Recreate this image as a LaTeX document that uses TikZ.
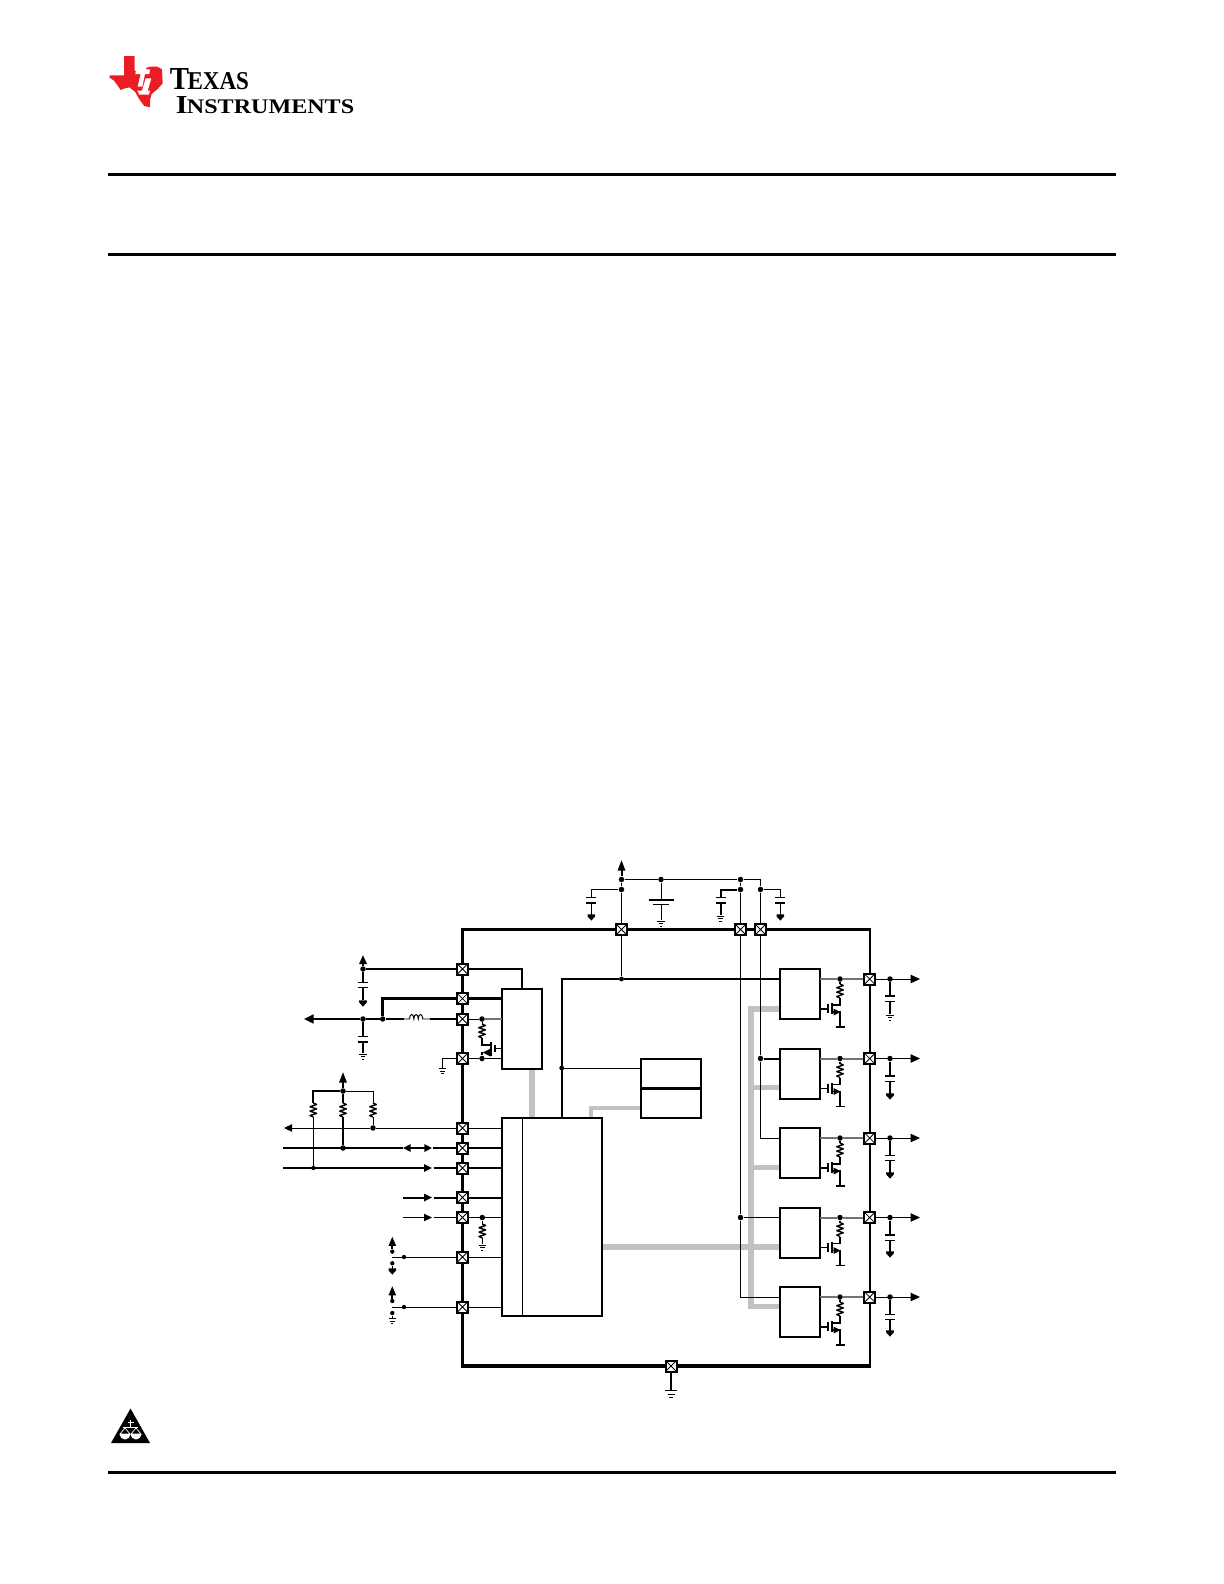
\documentclass[tikz,border=0pt]{standalone}
\usepackage{fontspec}
\setmainfont{Liberation Serif}
\usetikzlibrary{arrows.meta,calc}
\definecolor{busgray}{gray}{0.76}
\definecolor{tired}{RGB}{236,28,36}
\tikzset{
  wthin/.style={line width=0.55pt},
  wmed/.style={line width=1.2pt},
  wthick/.style={line width=1.9pt},
  bus/.style={draw=busgray,line width=3.3pt},
  rule/.style={line width=1.8pt},
  pinbox/.style={rectangle,draw,line width=1.2pt,fill=white,minimum size=6.6pt,inner sep=0pt,
    path picture={\draw[line width=0.45pt](path picture bounding box.south west)--(path picture bounding box.north east)
      (path picture bounding box.north west)--(path picture bounding box.south east);}},
  jdot/.style={circle,fill,inner sep=0pt,minimum size=3.3pt},
  sdot/.style={circle,fill,inner sep=0pt,minimum size=2.6pt},
  block/.style={rectangle,draw,line width=1.2pt,inner sep=0pt,outer sep=0pt,minimum width=24pt,minimum height=30pt},
  arr/.style={-{Triangle[length=5.6pt,width=5pt]}},
  arrs/.style={-{Triangle[length=4.8pt,width=4.4pt]}},
  tipup/.style={-{Triangle[length=5.4pt,width=4.4pt]}},
}
% resistor, top at (x,y), 14 px tall
\newcommand{\myres}[2]{\draw[line width=0.85pt,line join=round] (#1,#2) -- ++(3.3,1.5) -- ++(-6.6,2.2) -- ++(6.6,2.2) -- ++(-6.6,2.2) -- ++(6.6,2.2) -- ++(-6.6,2.2) -- ++(3.3,1.5);}
% ground with three lines, first at (x,y)
\newcommand{\mygnd}[2]{\draw[wthin] (#1-3.6,#2) -- (#1+3.6,#2) (#1-2.4,#2+2.6) -- (#1+2.4,#2+2.6) (#1-1.1,#2+5.2) -- (#1+1.1,#2+5.2);}
% solid supply marker pointing down, starting at (x,y)
\newcommand{\mydown}[2]{\fill (#1-3.8,#2-0.6) -- (#1+3.8,#2-0.6) -- (#1+3.8,#2+1.4) -- (#1,#2+5.6) -- (#1-3.8,#2+1.4) -- cycle;}
% capacitor plates with a clear gap between them
\newcommand{\mycap}[2]{\fill[white] (#1-5,#2) rectangle (#1+5,#2+5.2);\draw[line width=0.85pt] (#1-5,#2) -- (#1+5,#2) (#1-5,#2+5.2) -- (#1+5,#2+5.2);}
\begin{document}
\begin{tikzpicture}[x=0.6pt,y=-0.6pt]
\useasboundingbox (0,0) rectangle (1224,1584);
\fill[white] (0,0) rectangle (1224,1584);

% page rules
\coordinate (ruleAa) at (108,174.5); \coordinate (ruleAb) at (1116,174.5);
\coordinate (ruleBa) at (108,254.5); \coordinate (ruleBb) at (1116,254.5);
\coordinate (ruleCa) at (108,1472.5); \coordinate (ruleCb) at (1116,1472.5);
\draw[rule] (ruleAa) -- (ruleAb);
\draw[rule] (ruleBa) -- (ruleBb);
\draw[rule] (ruleCa) -- (ruleCb);

% logo
\begin{scope}[shift={(100,50)},x=0.2pt,y=-0.2pt]
\fill[tired] (72,18) -- (104,18) -- (104,62) -- (118,68) -- (128,58) -- (150,50) -- (172,50) -- (186,58) -- (188,100) -- (172,118) -- (155,132) -- (150,150) -- (150,172) -- (133,168) -- (118,148) -- (105,125) -- (88,112) -- (75,115) -- (62,120) -- (52,105) -- (42,92) -- (28,82) -- (30,76) -- (72,76) -- cycle;
\fill[white] (128,30) -- (143,30) -- (138,58) -- (150,58) -- (148,72) -- (135,72) -- (127,110) -- (113,110) -- (122,72) -- (106,72) -- (108,62) -- (124,58) -- cycle;
\fill[white] (137,85) -- (154,85) -- (143,122) -- (150,122) -- (147,134) -- (118,134) -- (112,122) -- (126,122) -- cycle;
\fill[white] (153,42) circle (7);
\end{scope}
\node[anchor=south west,inner sep=0pt] (logoT) at (169.5,90.5) {\resizebox{47.5pt}{12.6pt}{\bfseries T\kern-0.05em{\fontsize{8}{8}\selectfont EXAS}}};
\node[anchor=south west,inner sep=0pt] (logoI) at (175.5,114.5) {\resizebox{107pt}{10.2pt}{\bfseries I\kern-0.02em{\fontsize{8}{8}\selectfont NSTRUMENTS}}};

% warning triangle
\fill (130.5,1408.5) -- (150,1443) -- (111,1443) -- cycle;
\fill[white] (129.7,1419.5) rectangle (131.1,1428);
\fill[white] (127.5,1422) rectangle (133.5,1423.2);
\fill[white] (123,1426.8) rectangle (138,1428);
\draw[white,line width=0.4pt] (125,1428) -- (120,1434) -- (130,1434) -- cycle;
\draw[white,line width=0.4pt] (136,1428) -- (131,1434) -- (141,1434) -- cycle;
\fill[white] (119.5,1434) arc[start angle=180,end angle=0,x radius=5.5,y radius=5.5] -- cycle;
\fill[white] (130.5,1434) arc[start angle=180,end angle=0,x radius=5.5,y radius=5.5] -- cycle;

% positions of package pins
\coordinate (pT1) at (621.5,929.5); \coordinate (pT2) at (740.5,929.5); \coordinate (pT3) at (760.5,929.5);
\coordinate (pL1) at (462.5,969); \coordinate (pL2) at (462.5,998.7); \coordinate (pL3) at (462.5,1019);
\coordinate (pL4) at (462.5,1058.5); \coordinate (pL5) at (462.5,1128); \coordinate (pL6) at (462.5,1148);
\coordinate (pL7) at (462.5,1168); \coordinate (pL8) at (462.5,1197.5); \coordinate (pL9) at (462.5,1217.5);
\coordinate (pL10) at (462.5,1257); \coordinate (pL11) at (462.5,1307);
\coordinate (pB) at (671,1366);

% blocks (positions); outlines are drawn after the buses
\node[block,draw=none,minimum width=24pt,minimum height=48pt] (ldo) at (522,1029) {};
\node[block,draw=none,minimum width=60pt,minimum height=118.8pt] (mcu) at (552,1217.4) {};
\node[block,draw=none,minimum width=36pt,minimum height=17.6pt] (refa) at (671,1073.5) {};
\node[block,draw=none,minimum width=36pt,minimum height=17.6pt] (refb) at (671,1103) {};
\coordinate (divT) at (522.5,1118); \coordinate (divB) at (522.5,1317);

% gray buses
\draw[bus] (532,1069) -- (532,1118);
\draw[bus,line width=2.6pt] (591,1118) -- (591,1108) -- (refb.west |- 0,1108);
\draw[bus] (mcu.east |- 0,1247) -- (780,1247);
\draw[bus] (780,1009) -- (751,1009) -- (751,1306.7) -- (780,1306.7);
\draw[bus] (751,1087.7) -- (780,1087.7);
\draw[bus] (751,1167.7) -- (780,1167.7);

% outlines
\draw[wmed] (ldo.south west) rectangle (ldo.north east);
\draw[wmed] (mcu.south west) rectangle (mcu.north east);
\draw[wmed] (refa.north west) rectangle (refb.south east);
\draw[line width=1.6pt] (refa.south west) -- (refa.south east);

% outer package box
\draw[wthick,line cap=rect] (869.7,929.5) -- (462.5,929.5) -- (462.5,1366) -- (869.7,1366);
\draw[line width=1.3pt] (869.7,929.5) -- (869.7,1366);

% top supply network
\node[jdot] (vt) at (621.5,879.5) {};
\node[jdot] (vt2) at (621.5,889.5) {};
\node[jdot] (bat) at (661,879.5) {};
\node[jdot] (t2a) at (740.5,879.5) {};
\node[jdot] (t2b) at (740.5,889.5) {};
\node[jdot] (t3b) at (760.5,889.5) {};
\coordinate (vtop) at (621.5,860);
\draw[wmed,-{Triangle[length=6.4pt,width=4.4pt]}] (vt) -- (vtop);
\draw[wthin] (vt) -- (bat) -- (t2a) -- (760.5,879.5) -- (t3b);
\draw[wthin] (vt) -- (vt2) -- (pT1);
\draw[wthin] (t2a) -- (t2b) -- (pT2);
\draw[wthin] (t3b) -- (pT3);
\draw[wthin] (vt2) -- (591.3,889.5) -- (591.3,915);
\mycap{591.3}{897.7}
\mydown{591.3}{915}
\draw[wthin] (bat) -- (661,920);
\fill[white] (650,900) rectangle (672,904.5);
\draw[line width=1pt] (648.5,900) -- (673.5,900);
\draw[line width=1pt] (653,904.5) -- (669,904.5);
\mygnd{661}{921}
\draw[wmed] (t2b) -- (720.5,889.5) -- (720.5,915);
\mycap{720.5}{897.7}
\mygnd{720.5}{916}
\draw[wthin] (t3b) -- (780.3,889.5) -- (780.3,915);
\mycap{780.3}{897.7}
\mydown{780.3}{915}

% center line from pin T1 to regulator 1, and to references
\node[jdot,minimum size=2.9pt] (ctr) at (621.5,979) {};
\node[jdot,minimum size=2.9pt] (refj) at (561.7,1068) {};
\draw[wthin] (pT1) -- (ctr);
\draw[line width=1pt] (561.7,1118) -- (561.7,979) -- (ctr) -- (780,979);
\draw[wthin] (refj) -- (refa.west |- refj);

% left top nets
\node[jdot] (l1) at (363,969) {};
\coordinate (l1up) at (363,955);
\draw[wmed,tipup] (l1) -- (l1up);
\draw[line width=1.5pt] (l1) -- (pL1) -- (522,969) -- (ldo.north);
\draw[wmed] (l1) -- (363,1000);
\mycap{363}{982.5}
\mydown{363}{1001}
\node[jdot] (l3a) at (363,1019) {};
\node[jdot] (l3b) at (382.7,1019) {};
\coordinate (l3out) at (304,1019);
\coordinate (indA) at (404,1019); \coordinate (indB) at (430,1019);
\draw[wmed,-{Triangle[length=5.8pt,width=5.4pt]}] (l3a) -- (l3out);
\draw[wmed] (l3a) -- (l3b) -- (indA);
\draw[wthin] (indA) -- (409.5,1019) arc[start angle=180,end angle=360,x radius=2.2,y radius=4.6] arc[start angle=180,end angle=360,x radius=2.2,y radius=4.6] arc[start angle=180,end angle=360,x radius=2.2,y radius=4.6] -- (indB);
\draw[wmed] (indB) -- (pL3);
\draw[line width=1.5pt] (l3b) -- (382.7,998.7) -- (pL2) -- (ldo.west |- pL2);
\draw[wmed] (l3a) -- (363,1053);
\mycap{363}{1036.7}
\mygnd{363}{1054}

% FET by the LDO
\node[jdot] (fd) at (482,1019) {};
\node[jdot] (fs) at (482,1058.5) {};
\draw[wthin] (pL3) -- (fd);
\draw[draw=black!55,wmed] (fd) -- (ldo.west |- fd);
\draw[wthin] (pL4) -- (fs) -- (ldo.west |- fs);
\draw[wthin] (fd) -- (482,1024);
\myres{482}{1024}
\draw[line width=0.85pt] (482,1038) -- (482,1045) -- (491,1045) -- (491,1055);
\draw[wmed] (491,1042) -- (491,1056);
\draw[wmed] (494.8,1045) -- (494.8,1052);
\draw[wthin] (494.8,1048.5) -- (ldo.west |- 0,1048.5);
\draw[line width=0.85pt] (fs) -- (482,1052.5) -- (490,1052.5);
\fill (483,1052.5) -- (490.5,1048.5) -- (490.5,1056.5) -- cycle;
\draw[wthin] (pL4) -- (442.5,1058.5) -- (442.5,1068);
\mygnd{442.5}{1068.5}

% pull-ups
\node[jdot] (pu) at (343,1091) {};
\coordinate (puup) at (343,1072);
\draw[wmed,-{Triangle[length=6.4pt,width=4.4pt]}] (pu) -- (puup);
\draw[wmed] (313.3,1103) -- (313.3,1091) -- (pu);
\draw[wthin] (pu) -- (373,1091) -- (373,1103);
\draw[wmed] (pu) -- (343,1103);
\myres{313.3}{1103}
\myres{343}{1103}
\myres{373}{1103}
\node[jdot] (n5) at (373,1128) {};
\node[jdot] (n6) at (343,1148) {};
\node[jdot,minimum size=2.6pt] (n7) at (313.3,1168) {};
\draw[wthin] (373,1117) -- (n5);
\draw[wmed] (343,1117) -- (n6);
\draw[wthin] (313.3,1117) -- (n7);

% left signal lines
\coordinate (o5) at (284,1128);
\draw[wthin,arrs] (n5) -- (o5);
\draw[wthin] (n5) -- (pL5) -- (mcu.west |- pL5);
\coordinate (o6) at (283,1148); \coordinate (o7) at (283,1168);
\draw[wmed] (o6) -- (403,1148) (433,1148) -- (pL6) -- (mcu.west |- pL6);
\draw[wmed,{Triangle[length=4.6pt,width=4.4pt]}-{Triangle[length=4.6pt,width=4.4pt]}] (403,1148) -- (432,1148);
\draw[wmed,arrs] (o7) -- (432,1168);
\draw[wmed] (433.5,1168) -- (pL7) -- (mcu.west |- pL7);
\coordinate (o8) at (403,1197.5); \coordinate (o9) at (403,1217.5);
\draw[wmed,arrs] (o8) -- (432,1197.5);
\draw[wmed] (433.5,1197.5) -- (pL8) -- (mcu.west |- pL8);
\draw[wthin,arrs] (o9) -- (432,1217.5);
\draw[wthin] (433.5,1217.5) -- (pL9) -- (mcu.west |- pL9);
\node[jdot] (n9) at (482.3,1217.5) {};
\draw[wthin] (n9) -- (482.3,1224);
\myres{482.3}{1224}
\draw[wthin] (482.3,1238) -- (482.3,1244);
\mygnd{482.3}{1245}

% strap pins
\node[sdot] (s1) at (404,1257) {};
\coordinate (s1e) at (392,1257);
\draw[wthin] (s1e) -- (pL10) -- (mcu.west |- pL10);
\node[sdot] (s1u) at (392.3,1251.6) {};
\coordinate (s1ut) at (392.3,1236.5);
\draw[wmed,-{Triangle[length=5.6pt,width=4.2pt]}] (s1u) -- (s1ut);
\node[sdot] (s1d) at (392.3,1263.3) {};
\draw[wthin] (s1d) -- (392.3,1269);
\mydown{392.3}{1269}
\node[sdot] (s2) at (404,1307) {};
\coordinate (s2e) at (392,1307);
\draw[wthin] (s2e) -- (pL11) -- (mcu.west |- pL11);
\node[sdot] (s2u) at (392.3,1301) {};
\coordinate (s2ut) at (392.3,1286);
\draw[wmed,-{Triangle[length=5.6pt,width=4.2pt]}] (s2u) -- (s2ut);
\node[sdot] (s2d) at (392.3,1313) {};
\draw[wthin] (s2d) -- (392.3,1318);
\mygnd{392.3}{1318.5}

% divider in the controller
\draw[wthin] (divT) -- (divB);

% regulators
\node[block] (reg1) at (800,994) {};
\node[block] (reg2) at (800,1073.5) {};
\node[block] (reg3) at (800,1153) {};
\node[block] (reg4) at (800,1232.5) {};
\node[block] (reg5) at (800,1312) {};
\coordinate (pR1) at (869.7,979); \coordinate (pR2) at (869.7,1058.5); \coordinate (pR3) at (869.7,1138);
\coordinate (pR4) at (869.7,1217.5); \coordinate (pR5) at (869.7,1297);
\foreach \n/\y in {1/979,2/1058.5,3/1138,4/1217.5,5/1297}{
  \node[jdot] (ro\n) at (840,\y) {};
  \node[jdot] (co\n) at (890,\y) {};
  \coordinate (oo\n) at (920,\y);
  \draw[draw=black!55,wmed] (reg\n.east |- ro\n) -- (ro\n) -- (pR\n);
  \draw[wthin,arr] (pR\n) -- (oo\n);
  \draw[line width=0.95pt] (ro\n) -- (840,\y+5);
  \myres{840}{\y+5}
  \draw[line width=0.85pt] (840,\y+19) -- (840,\y+26) -- (831.5,\y+26);
  \draw[wmed] (831.5,\y+24) -- (831.5,\y+35);
  \draw[wmed] (828,\y+25) -- (828,\y+34);
  \draw[line width=0.85pt] (reg\n.east |- 0,\y+30) -- (828,\y+30);
  \draw[line width=0.85pt] (831.5,\y+33) -- (840,\y+33) -- (840,\y+48);
  \fill (840.5,\y+33) -- (833.5,\y+29.5) -- (833.5,\y+36.5) -- cycle;
  \draw[line width=0.9pt] (835.5,\y+48) -- (845,\y+48);
}
\draw[wmed] (co1) -- (890,1014);
\mycap{890}{996}
\mygnd{890}{1015}
\draw[wmed] (co2) -- (890,1095);
\mycap{890}{1076}
\mydown{890}{1094}
\draw[wmed] (co3) -- (890,1174);
\mycap{890}{1155.5}
\mydown{890}{1173}
\draw[wmed] (co4) -- (890,1253);
\mycap{890}{1235}
\mydown{890}{1252}
\draw[wmed] (co5) -- (890,1333);
\mycap{890}{1314.5}
\mydown{890}{1331}

% regulator feeds
\node[jdot] (f2) at (760.5,1058.5) {};
\node[jdot] (f4) at (740.5,1217.5) {};
\draw[wthin] (pT3) -- (f2) -- (760.5,1138) -- (reg3.west |- 0,1138);
\draw[wmed] (f2) -- (reg2.west |- f2);
\draw[wthin] (pT2) -- (f4) -- (740.5,1297) -- (reg5.west |- 0,1297);
\draw[wthin] (f4) -- (reg4.west |- f4);

% bottom ground
\draw[line width=1pt] (pB) -- (671,1390);
\draw[wthin] (665,1390) -- (677,1390) (667.5,1394) -- (674.5,1394) (669,1397.5) -- (673,1397.5);

% pins on top
\foreach \p in {pT1,pT2,pT3,pL1,pL2,pL3,pL4,pL5,pL6,pL7,pL8,pL9,pL10,pL11,pR1,pR2,pR3,pR4,pR5,pB}{
  \node[pinbox] (box\p) at (\p) {};
}
\end{tikzpicture}
\end{document}
